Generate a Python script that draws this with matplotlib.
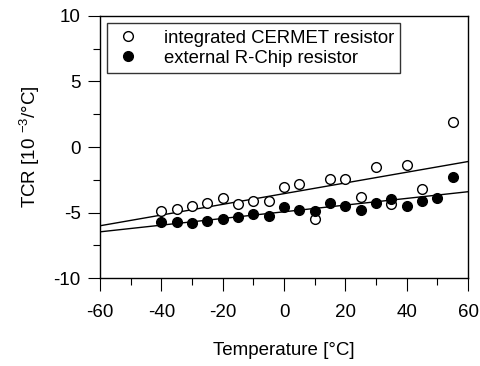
import numpy as np
import matplotlib
matplotlib.use("Agg")
import matplotlib.pyplot as plt

plt.rcParams['font.family'] = ['Liberation Sans', 'DejaVu Sans']
plt.rcParams['mathtext.fontset'] = 'custom'
plt.rcParams['mathtext.rm'] = 'Liberation Sans'
plt.rcParams['mathtext.it'] = 'Liberation Sans'
plt.rcParams['axes.unicode_minus'] = False

# Data
temp_cermet = [-40, -35, -30, -25, -20, -15, -10, -5, 0, 5, 10, 15, 20, 25, 30, 35, 40, 45, 55]
tcr_cermet = [-4.86, -4.76, -4.53, -4.30, -3.89, -4.35, -4.10, -4.10, -3.08, -2.82, -5.50,
              -2.47, -2.47, -3.84, -1.50, -4.35, -1.35, -3.23, 1.93]
temp_chip = [-40, -35, -30, -25, -20, -15, -10, -5, 0, 5, 10, 15, 20, 25, 30, 35, 40, 45, 50, 55]
tcr_chip = [-5.73, -5.70, -5.83, -5.63, -5.52, -5.37, -5.11, -5.24, -4.58, -4.79, -4.86,
            -4.30, -4.53, -4.81, -4.30, -3.94, -4.53, -4.10, -3.92, -2.27]
labels = ["integrated CERMET resistor", "external R-Chip resistor"]
xticks = [-60, -40, -20, 0, 20, 40, 60]
yticks = [-10, -5, 0, 5, 10]

fig = plt.figure(figsize=(4.81, 3.66), dpi=100)
ax = fig.add_axes([0.2079, 0.2404, 0.973 - 0.2079, 0.9563 - 0.2404])

xl = np.array([-60, 60])
for t, v in [(temp_cermet, tcr_cermet), (temp_chip, tcr_chip)]:
    p = np.polyfit(t, v, 1)
    ax.plot(xl, np.polyval(p, xl), color='black', lw=1.0)

ax.plot(temp_cermet, tcr_cermet, 'o', mfc='white', mec='black', ms=7, mew=1.0,
        label=labels[0], clip_on=False)
ax.plot(temp_chip, tcr_chip, 'o', mfc='black', mec='black', ms=7, mew=1.0,
        label=labels[1], clip_on=False)

ax.set_xlim(-60, 60)
ax.set_ylim(-10, 10)
ax.set_xticks(xticks)
ax.set_yticks(yticks)
ax.set_xticks(np.arange(-50, 60, 20), minor=True)
ax.set_yticks([-7.5, -2.5, 2.5, 7.5], minor=True)
ax.tick_params(which='major', direction='out', length=9, width=0.8, labelsize=13.5, pad=5)
ax.tick_params(which='minor', direction='out', length=5, width=0.8)
ax.tick_params(axis='x', pad=10)
ax.tick_params(top=False, right=False, which='both')
for s in ax.spines.values():
    s.set_linewidth(1.0)

ax.set_xlabel('Temperature [°C]', fontsize=13.5, labelpad=15)
ax.set_ylabel('TCR [10 $^{-3}$/°C]', fontsize=13.5, labelpad=8)

leg = ax.legend(loc='upper left', fontsize=13.3, frameon=True, fancybox=False,
                edgecolor='black', borderpad=0.35, handletextpad=1.2,
                labelspacing=0.15, borderaxespad=0.4, handlelength=1.5,
                bbox_to_anchor=(0.0, 1.0))
leg.get_frame().set_linewidth(1.0)

fig.savefig('out.png', dpi=100)
